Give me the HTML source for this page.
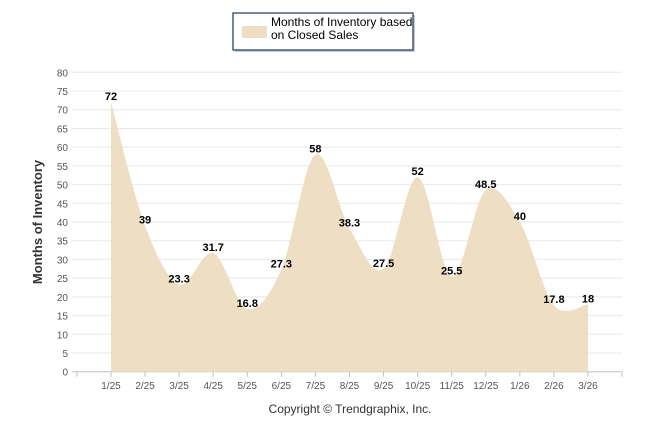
<!DOCTYPE html>
<html><head><meta charset="utf-8"><style>
body{margin:0;background:#fff;font-family:"Liberation Sans",sans-serif}
svg text{font-family:"Liberation Sans",sans-serif}
</style></head><body>
<svg id="c" width="646" height="434">
<g>
<rect x="235" y="15" width="180" height="37" fill="#8a9ab0" opacity="0.5"/>
<rect x="233" y="13" width="180" height="37" fill="#fff" stroke="#1f3556" stroke-width="1.2"/>
<rect x="242" y="26" width="25" height="12" fill="#eedfc4"/>
<text x="271" y="26" font-size="12" fill="#000">Months of Inventory based</text>
<text x="271" y="39" font-size="12" fill="#000">on Closed Sales</text>
</g>
<g id="grid"></g>
<g id="area"></g>
<g id="labels"></g>
<text transform="translate(42,222) rotate(-90)" text-anchor="middle" font-size="13" font-weight="bold" fill="#333">Months of Inventory</text>
<text x="350" y="413" text-anchor="middle" font-size="12" fill="#333">Copyright © Trendgraphix, Inc.</text>
</svg>
<script>
const categories=["1/25","2/25","3/25","4/25","5/25","6/25","7/25","8/25","9/25","10/25","11/25","12/25","1/26","2/26","3/26"];
const values=[72,39,23.3,31.7,16.8,27.3,58,38.3,27.5,52,25.5,48.5,40,17.8,18];
const valueLabels=["72","39","23.3","31.7","16.8","27.3","58","38.3","27.5","52","25.5","48.5","40","17.8","18"];
const yTicks=[0,5,10,15,20,25,30,35,40,45,50,55,60,65,70,75,80];
const NS="http://www.w3.org/2000/svg";
const x0=111,dx=34.07,yBase=371.7,yTop=72.3;
const X=i=>x0+i*dx;
const Y=v=>yBase-(v/80)*(yBase-yTop);
function mk(t,a,p){const e=document.createElementNS(NS,t);for(const k in a)e.setAttribute(k,a[k]);p.appendChild(e);return e;}
const grid=document.getElementById('grid');
yTicks.forEach(v=>{
 const l=mk('line',{x1:72,x2:622,y1:Y(v),y2:Y(v),stroke:v===0?'#c0c0c0':'#e8e8e8','stroke-width':1},grid);
 
 
 const t=mk('text',{x:68,y:Y(v)+4,'text-anchor':'end','font-size':10,fill:'#555'},grid);
 t.textContent=v;
 
 
});
const tickXs=[X(0)-dx].concat(categories.map((c,i)=>X(i))).concat([X(categories.length-1)+dx]);
tickXs.forEach((tx,i)=>{
 const l=mk('line',{x1:tx,x2:tx,y1:yBase,y2:yBase+5,stroke:'#c0c0c0'},grid);
 
 
});
categories.forEach((c,i)=>{
 const t=mk('text',{x:X(i),y:389,'text-anchor':'middle','font-size':10,fill:'#555'},grid);
 t.textContent=c;
 
 
});
const pts=values.map((v,i)=>[X(i),Y(v)]);
let d=`M${pts[0][0]},${yBase}L${pts[0][0]},${pts[0][1]}`;
for(let i=0;i<pts.length-1;i++){
 const p0=pts[Math.max(0,i-1)],p1=pts[i],p2=pts[i+1],p3=pts[Math.min(pts.length-1,i+2)];
 const c1=[p1[0]+(p2[0]-p0[0])/6,p1[1]+(p2[1]-p0[1])/6];
 const c2=[p2[0]-(p3[0]-p1[0])/6,p2[1]-(p3[1]-p1[1])/6];
 d+=`C${c1[0]},${c1[1]} ${c2[0]},${c2[1]} ${p2[0]},${p2[1]}`;
}
d+=`L${pts[pts.length-1][0]},${yBase}Z`;
const a=mk('path',{d:d,fill:'#eedfc4'},document.getElementById('area'));


const lab=document.getElementById('labels');
values.forEach((v,i)=>{
 const t=mk('text',{x:X(i),y:Y(v)-2,'text-anchor':'middle','font-size':11,'font-weight':'bold',fill:'#000'},lab);
 t.textContent=valueLabels[i];
 
 
});
</script>
</body></html>
